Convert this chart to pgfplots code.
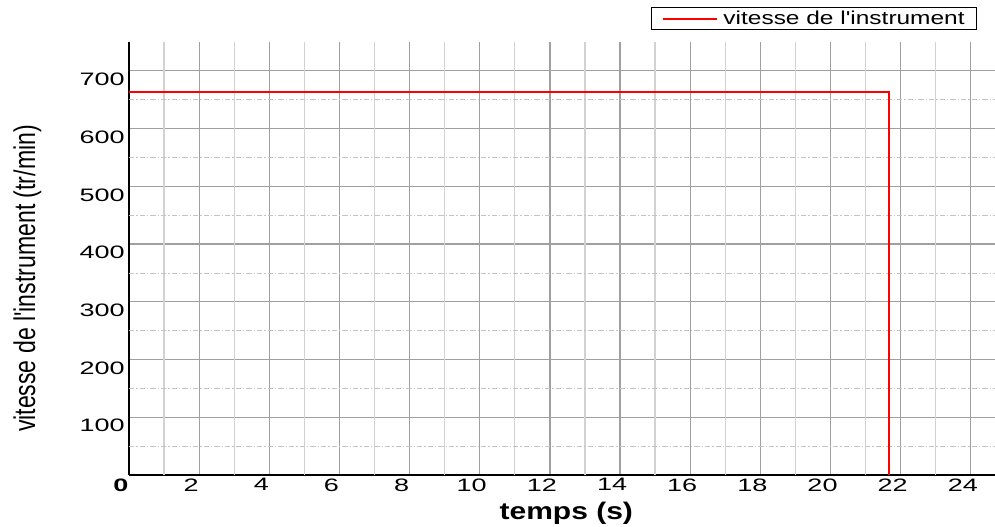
\documentclass[border=0pt]{standalone}
\usepackage{fontspec}
\setmainfont{Liberation Sans}
\usepackage{pgfplots}
\pgfplotsset{compat=1.18}
\definecolor{gridD}{HTML}{A0A0A0}
\definecolor{gridL}{HTML}{D2D2D2}
\definecolor{gridM}{HTML}{C4C4C4}
\begin{document}
\begin{tikzpicture}
\useasboundingbox (-96.75pt,-39pt) rectangle (649.5pt,356.25pt);
\begin{axis}[
  scale only axis, width=649.5pt, height=324.75pt,
  xmin=0, xmax=24.69, ymin=0, ymax=750,
  axis lines=left, axis line style={-},
  x axis line style={line width=1.5pt},
  y axis line style={line width=2.2pt},
  xtick={0,2,...,24}, ytick={100,200,...,700},
  xticklabels={\textbf{0},2,4,6,8,10,12,14,16,18,20,22,24},
  extra x ticks={1,3,...,23}, extra x tick labels={},
  extra y ticks={50,150,...,650}, extra y tick labels={},
  extra x tick style={grid=major, major grid style={draw=gridL, line width=1pt}},
  extra y tick style={grid=major, major grid style={draw=gridM, line width=0.6pt, dash pattern=on 4pt off 1.5pt on 1pt off 1.5pt}},
  grid=major,
  major grid style={draw=gridD, line width=0.9pt},
  major tick length=0pt, minor tick length=0pt,
  /pgf/number format/assume math mode=true,
  ticklabel style={font=\fontsize{13.5}{15}\selectfont, inner sep=1pt, xscale=1.5},
  xticklabel style={anchor=north, xshift=-4pt, yshift=-1.5pt},
  yticklabel style={anchor=east, yshift=-6.4pt, xshift=-1pt},
  xlabel={temps (s)},
  xlabel style={at={(axis description cs:0.505,-0.0878)}, anchor=center, font=\bfseries\fontsize{18}{20}\selectfont, xscale=1.25},
  ylabel={vitesse de l\textquotesingle instrument (tr/min)},
  ylabel style={at={(axis description cs:-0.1175,0.4538)}, anchor=center, font=\fontsize{17.3}{19}\selectfont, yscale=1.3},
  legend style={at={(axis description cs:0.9792,1.0808)}, anchor=north east, draw=black, line width=0.9pt, inner ysep=1.5pt, inner xsep=7.5pt,
    font=\fontsize{14}{16}\selectfont, nodes={inner sep=1pt, xscale=1.31}},
  legend image code/.code={\draw[#1] (-1pt,0pt) -- (40pt,0pt);},
]
\addplot[red, line width=1.5pt, line join=miter] coordinates {(0,663) (21.66,663) (21.66,0)};
\addlegendentry{\hspace{2pt}vitesse de l\textquotesingle instrument}
\end{axis}
\end{tikzpicture}
\end{document}
